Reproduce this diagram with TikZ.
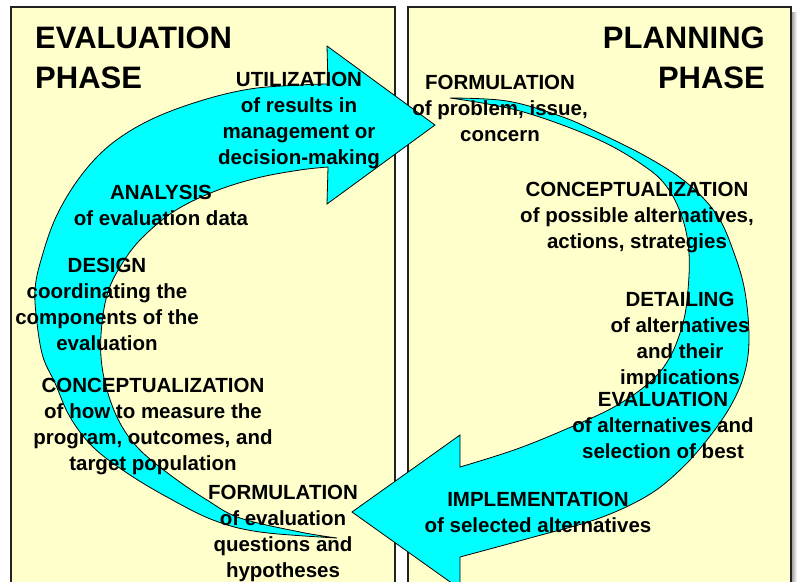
\documentclass[tikz,border=0pt]{standalone}
\usepackage{fontspec}
\setmainfont{Liberation Sans}
\usepackage{tikz}
\usetikzlibrary{positioning}
\definecolor{paneyellow}{RGB}{255,255,204}
\definecolor{cyclecyan}{RGB}{0,255,255}
\definecolor{framedark}{RGB}{34,34,34}

\begin{document}
\begin{tikzpicture}[x=1pt, y=-1pt,
        pane/.style={draw=framedark, fill=paneyellow, line width=2pt},
        cycle arrow/.style={draw=black, fill=cyclecyan, line width=0.8pt, line join=miter},
        phase/.style={font=\fontsize{31}{40}\selectfont\bfseries, inner sep=0pt},
        lbl/.style={font=\fontsize{20.5}{26}\selectfont\bfseries, align=center, inner sep=0pt, anchor=north}
    ]
        \useasboundingbox (0,0) rectangle (797,581);
        \clip (0,0) rectangle (797,581);
        \shade [left color=gray!70, right color=white] (792,12) rectangle (797,600);
        \path [pane] (11,7) rectangle (395,600);
        \path [pane] (408,7) rectangle (791,600);
        % evaluation cycle
        \path [cycle arrow] plot[smooth, tension=0.6] coordinates {(337,538) (260,532) (213,520) (167,497) (127,473) (93,447) (70,417) (55,383) (43,357) (37,323) (35,290) (41,260) (56,217) (80,177) (110,145) (150,120) (200,101) (250,89) (300,85) (328,84)}
            -- (327,46) -- (435,125) -- (327,204) -- (328,167)
            -- plot[smooth, tension=0.6] coordinates {(328,167) (300,170) (257,178) (213,192) (173,212) (140,240) (120,267) (108,292) (102,323) (101,357) (107,390) (120,423) (140,450) (173,477) (207,500) (240,518) (300,532) (337,538)} -- cycle;
        % planning cycle
        \path [cycle arrow] plot[smooth, tension=0.6] coordinates {(450,98) (507,101) (560,116) (597,132) (647,157) (687,183) (717,215) (734,253) (745,292) (749,340) (744,375) (730,407) (707,440) (680,470) (647,496) (597,519) (530,538) (460,557)}
            -- (460,589) -- (352,512) -- (460,435) -- (460,467)
            -- plot[smooth, tension=0.6] coordinates {(460,467) (514,450) (564,430) (614,407) (650,382) (670,357) (683,323) (688,290) (689,253) (683,220) (669,190) (647,168) (597,139) (520,111) (450,98)} -- cycle;
        \node [phase, anchor=north west, align=left] (evaltitle) at (35,27) {EVALUATION\\PHASE};
        \node [phase, anchor=north east, align=right] (plantitle) at (765,27) {PLANNING\\PHASE};
        \node [lbl] (util) at (299,72) {UTILIZATION\\of results in\\management or\\decision-making};
        \node [lbl] (analysis) at (161,185) {ANALYSIS\\of evaluation data};
        \node [lbl] (design) at (107,258) {DESIGN\\coordinating the\\components of the\\evaluation};
        \node [lbl] (conceval) at (153,378) {CONCEPTUALIZATION\\of how to measure the\\program, outcomes, and\\target population};
        \node [lbl] (formeval) at (283,485) {FORMULATION\\of evaluation\\questions and\\hypotheses};
        \node [lbl] (formplan) at (500,75) {FORMULATION\\of problem, issue,\\concern};
        \node [lbl] (concplan) at (637,182) {CONCEPTUALIZATION\\of possible alternatives,\\actions, strategies};
        \node [lbl] (detail) at (680,292) {DETAILING\\of alternatives\\and their\\implications};
        \node [lbl] (evalplan) at (663,392) {EVALUATION\\of alternatives and\\selection of best};
        \node [lbl] (implement) at (538,492) {IMPLEMENTATION\\of selected alternatives};
    \end{tikzpicture}
\end{document}
